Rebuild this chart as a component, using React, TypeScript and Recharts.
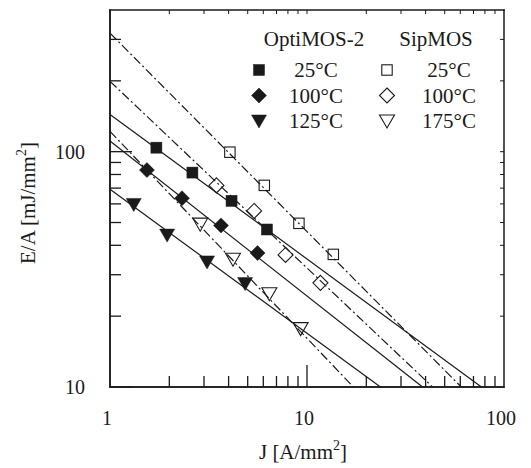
import { Scatter, ScatterChart, XAxis, YAxis } from "recharts";

const optiJ25 = [1.72, 2.62, 4.14, 6.26];
const optiE25 = [104, 81.5, 61.8, 46.7];
const optiJ100 = [1.54, 2.32, 3.66, 5.61];
const optiE100 = [83.5, 63.4, 48.6, 37.1];
const optiJ125 = [1.32, 1.95, 3.11, 4.85];
const optiE125 = [59.7, 44.2, 34.0, 27.5];

const sipJ25 = [4.06, 6.07, 9.1, 13.6];
const sipE25 = [99.5, 71.9, 49.6, 36.6];
const sipJ100 = [3.47, 5.39, 7.78, 11.7];
const sipE100 = [71.9, 56.0, 36.4, 27.7];
const sipJ175 = [2.87, 4.21, 6.44, 9.28];
const sipE175 = [49.2, 34.9, 24.9, 17.7];

// fit lines: where each line enters and leaves the frame
const fitJOpti25 = [1, 76.8];
const fitEOpti25 = [144, 10];
const fitJOpti100 = [1, 38.6];
const fitEOpti100 = [111, 10];
const fitJOpti125 = [1, 23.6];
const fitEOpti125 = [69.2, 10];
const fitJSip25 = [1, 60.7];
const fitESip25 = [319, 10];
const fitJSip100 = [1, 43.4];
const fitESip100 = [199, 10];
const fitJSip175 = [1, 17.2];
const fitESip175 = [122, 10];

const xDomain = [1, 100];
const yDomain = [10, 400];
const xTicks = [1, 2, 3, 4, 5, 6, 7, 8, 9, 10, 20, 30, 40, 50, 60, 70, 80, 90, 100];
const yTicks = [10, 20, 30, 40, 50, 60, 70, 80, 90, 100, 200, 300, 400];
const xLabels = [1, 10, 100];
const yLabels = [10, 100];

// corners of the plot box
const boxJ = [xDomain[0], xDomain[0], xDomain[1], xDomain[1]];
const boxE = [yDomain[0], yDomain[1], yDomain[1], yDomain[0]];

const groupNames = ["OptiMOS-2", "SipMOS"];
const optiTemps = ["25°C", "100°C", "125°C"];
const sipTemps = ["25°C", "100°C", "175°C"];

const FONT = "Liberation Serif";
const INK = "#1a1a1a";
const DASH_DOT = "9 3 2 3";

const toRows = (xs: number[], ys: number[]) => xs.map((x, i) => ({ x, y: ys[i] }));

// tick mark positions on the four sides of the box
const innerX = xTicks.filter((v) => v > xDomain[0] && v < xDomain[1]);
const innerY = yTicks.filter((v) => v > yDomain[0] && v < yDomain[1]);
const bottomMarks = innerX.map((x) => ({ x, y: yDomain[0] }));
const topMarks = innerX.map((x) => ({ x, y: yDomain[1] }));
const leftMarks = [yDomain[0], ...innerY].map((y) => ({ x: xDomain[0], y }));
const rightMarks = innerY.map((y) => ({ x: xDomain[1], y }));

type Kind = "square" | "diamond" | "triangle";

function markerPath(kind: Kind, filled: boolean, cx: number, cy: number) {
  const fill = filled ? INK : "none";
  const sw = filled ? 0.5 : 1.1;
  if (kind === "square") {
    const h = filled ? 5.5 : 5.2;
    return <rect x={cx - h} y={cy - h} width={2 * h} height={2 * h} fill={fill} stroke={INK} strokeWidth={sw} />;
  }
  if (kind === "diamond") {
    const r = 7.5;
    return (
      <polygon
        points={`${cx},${cy - r} ${cx + r},${cy} ${cx},${cy + r} ${cx - r},${cy}`}
        fill={fill}
        stroke={INK}
        strokeWidth={sw}
      />
    );
  }
  return (
    <polygon
      points={`${cx - 7.5},${cy - 6} ${cx + 7.5},${cy - 6} ${cx},${cy + 7}`}
      fill={fill}
      stroke={INK}
      strokeWidth={sw}
    />
  );
}

const makeShape = (kind: Kind, filled: boolean) => (props: any) =>
  markerPath(kind, filled, props.cx, props.cy);

const noShape = () => <g />;

// tick marks drawn as thin filled bars
const bottomMark = (p: any) => {
  const len = p.payload && p.payload.x === 10 ? 22 : 11;
  return <rect x={p.cx - 0.65} y={p.cy - len} width={1.3} height={len} fill={INK} />;
};
const leftMark = (p: any) => {
  const len = p.payload && yLabels.includes(p.payload.y) ? 22 : 11;
  return <rect x={p.cx} y={p.cy - 0.65} width={len} height={1.3} fill={INK} />;
};
const topMark = (p: any) => <rect x={p.cx - 0.5} y={p.cy} width={1} height={4} fill={INK} />;
const rightMark = (p: any) => <rect x={p.cx - 4} y={p.cy - 0.5} width={4} height={1} fill={INK} />;

// frame from the corner points the scatter hands over
function FrameBars(props: any) {
  const pts = (props.points || []).filter((p: any) => p && p.x != null && p.y != null);
  if (pts.length < 2) return <g />;
  const xs = pts.map((p: any) => p.x);
  const ys = pts.map((p: any) => p.y);
  const x0 = Math.min(...xs);
  const x1 = Math.max(...xs);
  const y0 = Math.min(...ys);
  const y1 = Math.max(...ys);
  const t = 1.5;
  return (
    <g>
      <rect x={x0 - t / 2} y={y0 - t / 2} width={x1 - x0 + t} height={t} fill={INK} />
      <rect x={x0 - t / 2} y={y1 - t / 2} width={x1 - x0 + t} height={t} fill={INK} />
      <rect x={x0 - t / 2} y={y0 - t / 2} width={t} height={y1 - y0 + t} fill={INK} />
      <rect x={x1 - t / 2} y={y0 - t / 2} width={t} height={y1 - y0 + t} fill={INK} />
    </g>
  );
}

function BottomTick({ x, y, payload }: any) {
  const v = payload.value;
  if (!xLabels.includes(v)) return <g />;
  return (
    <text x={x - 3} y={y + 38} textAnchor="middle" fontFamily={FONT} fontSize={20} fill={INK}>
      {v}
    </text>
  );
}

function LeftTick({ x, y, payload }: any) {
  const v = payload.value;
  if (!yLabels.includes(v)) return <g />;
  return (
    <text x={x - 25} y={y + 7} textAnchor="end" fontFamily={FONT} fontSize={20} fill={INK}>
      {v}
    </text>
  );
}

function LegendOverlay() {
  const rowY = [70, 95.5, 121];
  const kinds: Kind[] = ["square", "diamond", "triangle"];
  return (
    <svg width={531} height={140} style={{ position: "absolute", left: 0, top: 0, pointerEvents: "none" }}>
      <text x={314} y={46} textAnchor="middle" fontFamily={FONT} fontSize={21} fill={INK}>
        {groupNames[0]}
      </text>
      <text x={436} y={46} textAnchor="middle" fontFamily={FONT} fontSize={21} fill={INK}>
        {groupNames[1]}
      </text>
      {optiTemps.map((t, i) => (
        <g key={"o" + t}>
          {markerPath(kinds[i], true, 259, rowY[i])}
          <text x={316} y={rowY[i] + 7} textAnchor="middle" fontFamily={FONT} fontSize={21} fill={INK}>
            {t}
          </text>
        </g>
      ))}
      {sipTemps.map((t, i) => (
        <g key={"s" + t}>
          {markerPath(kinds[i], false, 387, rowY[i])}
          <text x={449} y={rowY[i] + 7} textAnchor="middle" fontFamily={FONT} fontSize={21} fill={INK}>
            {t}
          </text>
        </g>
      ))}
    </svg>
  );
}

function AxisTitles() {
  return (
    <svg width={531} height={468} style={{ position: "absolute", left: 0, top: 0, pointerEvents: "none" }}>
      <text x={303} y={459} textAnchor="middle" fontFamily={FONT} fontSize={21} fill={INK}>
        J [A/mm
        <tspan dy={-9} fontSize={14}>
          2
        </tspan>
        <tspan dy={9}>]</tspan>
      </text>
      <text transform="translate(35,203) rotate(-90)" textAnchor="middle" fontFamily={FONT} fontSize={21} fill={INK}>
        E/A [mJ/mm
        <tspan dy={-9} fontSize={14}>
          2
        </tspan>
        <tspan dy={9}>]</tspan>
      </text>
    </svg>
  );
}

export default function App() {
  const solid = { stroke: INK, strokeWidth: 1.2 };
  const dashed = { stroke: INK, strokeWidth: 1.2, strokeDasharray: DASH_DOT };
  const frame = { stroke: INK, strokeWidth: 1.5 };

  return (
    <div style={{ position: "absolute", left: 0, top: 0, width: 531, height: 468, background: "#fff" }}>
      <ScatterChart width={531} height={468} margin={{ top: 10, right: 27, bottom: 0, left: 0 }}>
        <XAxis
          dataKey="x"
          type="number"
          scale="log"
          domain={xDomain}
          ticks={xTicks}
          interval={0}
          tick={<BottomTick />}
          tickLine={false}
          tickSize={0}
          tickMargin={0}
          height={81}
          axisLine={frame}
        />
        <YAxis
          dataKey="y"
          type="number"
          scale="log"
          domain={yDomain}
          ticks={yTicks}
          interval={0}
          tick={<LeftTick />}
          tickLine={false}
          tickSize={0}
          tickMargin={0}
          width={110}
          axisLine={frame}
        />

        <Scatter data={toRows(fitJOpti25, fitEOpti25)} line={solid} shape={noShape} isAnimationActive={false} />
        <Scatter data={toRows(fitJOpti100, fitEOpti100)} line={solid} shape={noShape} isAnimationActive={false} />
        <Scatter data={toRows(fitJOpti125, fitEOpti125)} line={solid} shape={noShape} isAnimationActive={false} />
        <Scatter data={toRows(fitJSip25, fitESip25)} line={dashed} shape={noShape} isAnimationActive={false} />
        <Scatter data={toRows(fitJSip100, fitESip100)} line={dashed} shape={noShape} isAnimationActive={false} />
        <Scatter data={toRows(fitJSip175, fitESip175)} line={dashed} shape={noShape} isAnimationActive={false} />

        <Scatter name="OptiMOS-2 25°C" data={toRows(optiJ25, optiE25)} shape={makeShape("square", true)} isAnimationActive={false} />
        <Scatter name="OptiMOS-2 100°C" data={toRows(optiJ100, optiE100)} shape={makeShape("diamond", true)} isAnimationActive={false} />
        <Scatter name="OptiMOS-2 125°C" data={toRows(optiJ125, optiE125)} shape={makeShape("triangle", true)} isAnimationActive={false} />
        <Scatter name="SipMOS 25°C" data={toRows(sipJ25, sipE25)} shape={makeShape("square", false)} isAnimationActive={false} />
        <Scatter name="SipMOS 100°C" data={toRows(sipJ100, sipE100)} shape={makeShape("diamond", false)} isAnimationActive={false} />
        <Scatter name="SipMOS 175°C" data={toRows(sipJ175, sipE175)} shape={makeShape("triangle", false)} isAnimationActive={false} />

        {/* frame and tick marks, drawn last through the same scales */}
        <Scatter data={bottomMarks} shape={bottomMark} isAnimationActive={false} />
        <Scatter data={topMarks} shape={topMark} isAnimationActive={false} />
        <Scatter data={leftMarks} shape={leftMark} isAnimationActive={false} />
        <Scatter data={rightMarks} shape={rightMark} isAnimationActive={false} />
        <Scatter data={toRows(boxJ, boxE)} line={FrameBars} shape={noShape} isAnimationActive={false} />
      </ScatterChart>
      <AxisTitles />
      <LegendOverlay />
    </div>
  );
}
